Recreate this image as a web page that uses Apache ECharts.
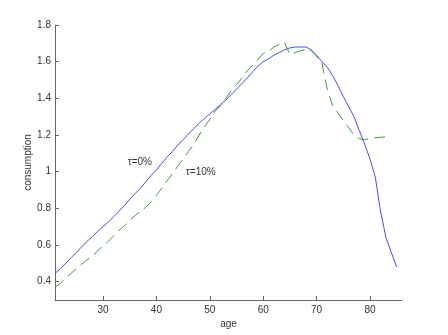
<!DOCTYPE html>
<html>
<head>
<meta charset="utf-8">
<script src="https://cdn.jsdelivr.net/npm/echarts@6/dist/echarts.min.js"></script>
<style>
  html, body { margin: 0; padding: 0; background: #fff; }
  #chart { width: 448px; height: 335px; }
</style>
</head>
<body>
<div id="chart"></div>
<script>
// ages and consumption
var ages = [21,22,23,24,25,26,27,28,29,30,31,32,33,34,35,36,37,38,39,40,
            41,42,43,44,45,46,47,48,49,50,51,52,53,54,55,56,57,58,59,60,
            61,62,63,64,65,66,67,68,69,70,71,72,73,74,75,76,77,78,79,80,
            81,82,83,84,85];
var tau0 = [0.445,0.47,0.5,0.53,0.56,0.59,0.62,0.645,0.675,0.7,
            0.725,0.755,0.785,0.815,0.85,0.88,0.91,0.945,0.98,1.01,
            1.045,1.08,1.11,1.145,1.175,1.205,1.235,1.265,1.29,1.315,
            1.34,1.365,1.39,1.42,1.45,1.48,1.51,1.545,1.575,1.6,
            1.615,1.635,1.65,1.665,1.675,1.68,1.68,1.68,1.665,1.635,
            1.6,1.57,1.525,1.47,1.41,1.355,1.3,1.225,1.15,1.07,
            0.97,0.78,0.64,0.56,0.48];
var tau10 = [0.37,0.39,0.42,0.445,0.47,0.495,0.52,0.535,0.57,0.595,
             0.62,0.65,0.68,0.705,0.735,0.76,0.785,0.805,0.835,0.87,
             0.91,0.95,0.99,1.03,1.07,1.11,1.15,1.2,1.245,1.285,
             1.33,1.36,1.4,1.44,1.475,1.51,1.55,1.58,1.61,1.645,
             1.655,1.68,1.695,1.705,1.64,1.65,1.66,1.667,1.66,1.63,
             1.59,1.45,1.36,1.32,1.28,1.24,1.2,1.18,1.175,1.18,
             1.185,1.188,1.19];
var xTicks = [30,40,50,60,70,80];
var yTicks = [0.4,0.6,0.8,1,1.2,1.4,1.6,1.8];

function pairs(xs, ys) {
  var out = [];
  for (var i = 0; i < ys.length; i++) out.push([xs[i], ys[i]]);
  return out;
}

var axisCol = '#666';
var txtCol = '#333';
var font = 'Arial, "Liberation Sans", sans-serif';

var option = {
  animation: false,
  backgroundColor: '#fff',
  textStyle: { fontFamily: font },
  grid: { left: 55, right: 46, top: 25, bottom: 35 },
  xAxis: {
    type: 'value',
    min: 21,
    max: 86,
    name: 'age',
    nameLocation: 'middle',
    nameGap: 19,
    nameMoveOverlap: false,
    nameTextStyle: { color: txtCol, fontSize: 10, fontFamily: font },
    axisLine: { lineStyle: { color: axisCol, width: 1 } },
    axisTick: { inside: true, length: 4, customValues: xTicks, lineStyle: { color: axisCol } },
    axisLabel: { customValues: xTicks, color: txtCol, fontSize: 10, margin: 5, fontFamily: font },
    splitLine: { show: false }
  },
  yAxis: {
    type: 'value',
    min: 0.3,
    max: 1.8,
    name: 'consumption',
    nameLocation: 'middle',
    nameGap: 22,
    nameMoveOverlap: false,
    nameTextStyle: { color: txtCol, fontSize: 10, fontFamily: font },
    axisLine: { show: true, lineStyle: { color: axisCol, width: 1 } },
    axisTick: { show: true, inside: true, length: 4, customValues: yTicks, lineStyle: { color: axisCol } },
    axisLabel: { customValues: yTicks, color: txtCol, fontSize: 10, margin: 4, fontFamily: font },
    splitLine: { show: false }
  },
  series: [
    {
      name: 'τ=0%',
      type: 'line',
      data: pairs(ages, tau0),
      symbol: 'none',
      lineStyle: { color: '#4c4ce6', width: 1 },
      markPoint: {
        symbol: 'circle', symbolSize: 0,
        label: { show: true, formatter: 'τ=0%', color: txtCol, fontSize: 10, fontFamily: font },
        data: [{ coord: [36.9, 1.05] }]
      }
    },
    {
      name: 'τ=10%',
      type: 'line',
      data: pairs(ages, tau10),
      symbol: 'none',
      lineStyle: { color: '#3e9c3e', width: 1, type: [11, 6] },
      markPoint: {
        symbol: 'circle', symbolSize: 0,
        label: { show: true, formatter: 'τ=10%', color: txtCol, fontSize: 10, fontFamily: font },
        data: [{ coord: [48.3, 0.995] }]
      }
    }
  ]
};

var chart = echarts.init(document.getElementById('chart'));
chart.setOption(option);
</script>
</body>
</html>
